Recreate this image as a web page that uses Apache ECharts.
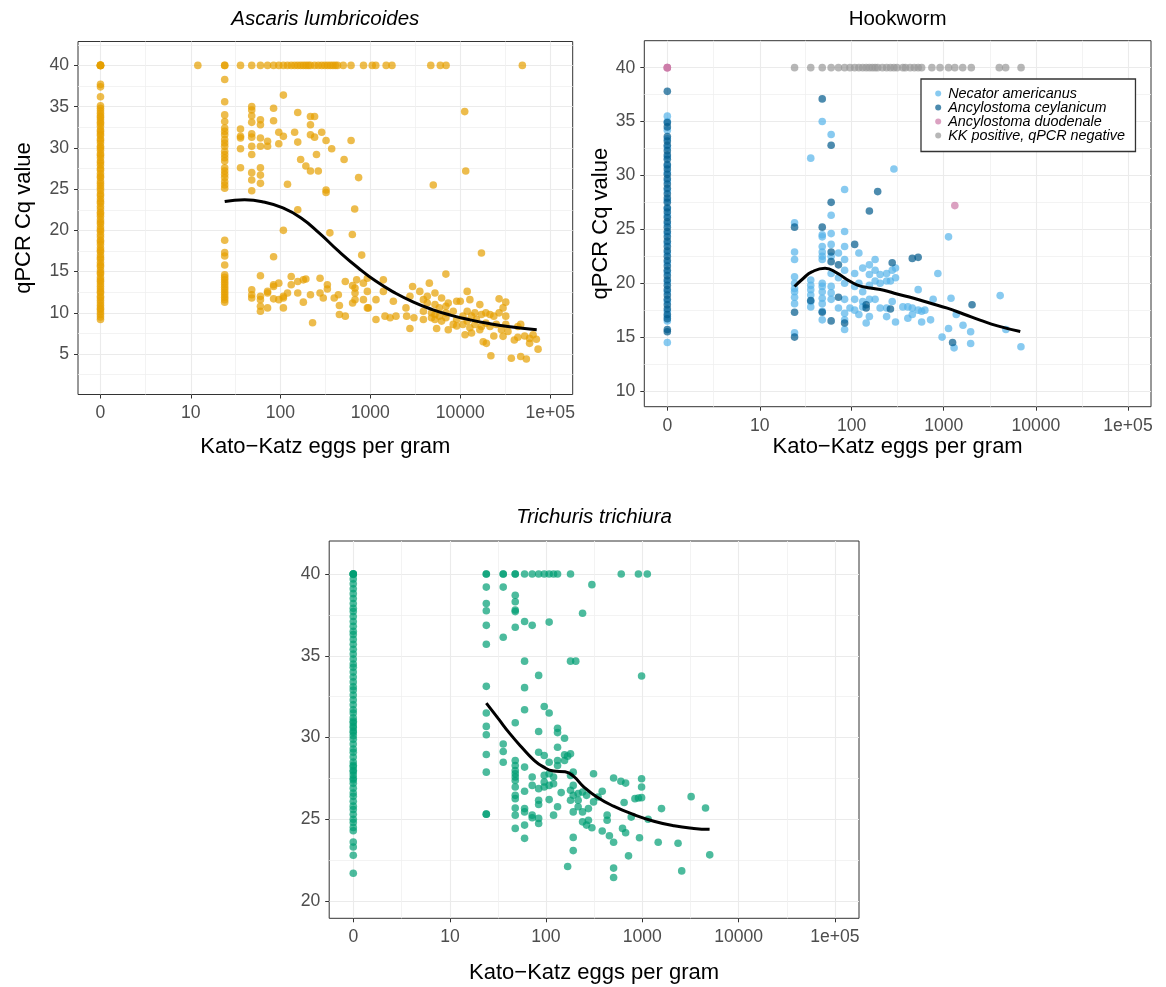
<!DOCTYPE html>
<html><head><meta charset="utf-8">
<script src="https://cdn.jsdelivr.net/npm/echarts@6/dist/echarts.min.js"></script>
<style>html,body{margin:0;padding:0;background:#fff}#c{width:1166px;height:987px}</style>
</head><body><div id="c"></div>
<script>
// ---------- axis ticks ----------
const xTickValues = [0, 10, 100, 1000, 10000, 100000];
const xTickLabels = ['0', '10', '100', '1000', '10000', '1e+05'];
const ascarisYTicks = [5, 10, 15, 20, 25, 30, 35, 40];
const ascarisYMinor = [2.5, 7.5, 12.5, 17.5, 22.5, 27.5, 32.5, 37.5, 42.5];
const hookwormYTicks = [10, 15, 20, 25, 30, 35, 40];
const hookwormYMinor = [12.5, 17.5, 22.5, 27.5, 32.5, 37.5];
const trichurisYTicks = [20, 25, 30, 35, 40];
const trichurisYMinor = [22.5, 27.5, 32.5, 37.5];

// ---------- panel titles ----------
const panelTitles = ['Ascaris lumbricoides', 'Hookworm', 'Trichuris trichiura'];

// ---------- Ascaris (eggs per gram, Cq) ----------
const ascarisZeroCq = [40, 40, 40, 40, 40, 37.7, 37.4, 36.2, 35.1, 34.8, 34.5, 34.2, 33.9, 33.7, 33.4, 33.1, 32.9, 32.6, 32.2, 32.0, 31.7, 31.5, 31.1, 30.9, 30.6, 30.2, 30.0, 29.7, 29.3, 29.1, 28.8, 28.4, 28.2, 27.9, 27.5, 27.3, 26.9, 26.6, 26.4, 26.0, 25.7, 25.4, 25.1, 24.8, 24.4, 24.2, 23.8, 23.5, 23.3, 22.9, 22.6, 22.2, 22.0, 21.7, 21.3, 21.0, 20.8, 20.4, 20.1, 19.9, 19.5, 19.2, 18.8, 18.6, 18.3, 17.9, 17.6, 17.4, 17.0, 16.7, 16.5, 16.1, 15.8, 15.6, 15.2, 14.9, 14.7, 14.3, 14.0, 13.8, 13.5, 13.2, 12.9, 12.6, 12.4, 12.0, 11.8, 11.5, 11.2, 10.9, 10.6, 10.4, 10.1, 9.8, 9.5, 9.2];
const ascarisPoints = [
  [12,40],[24,40],[24,40],[36,40],[48,40],[60,40],[72,40],[84,40],[96,40],[108,40],[120,40],[132,40],[144,40],[156,40],[168,40],[180,40],[192,40],[204,40],[216,40],[240,40],[264,40],[288,40],[312,40],[336,40],[360,40],[384,40],[408,40],[432,40],[500,40],[610,40],[840,40],[1050,40],[1150,40],[1500,40],[1740,40],[4700,40],[6000,40],[6950,40],[49000,40],
  [24,38.3],[24,35.6],[24,34.0],[24,33.2],[24,32.4],[24,32.0],[24,31.6],[24,31.0],[24,30.6],[24,30.2],[24,29.6],[24,29.2],[24,28.8],[24,28.4],[24,27.6],[24,27.2],[24,26.8],[24,26.4],[24,25.9],[24,25.5],[24,25.1],[24,18.8],[24,17.3],[24,16.9],[24,15.8],[24,14.6],[24,14.3],[24,14.0],[24,13.7],[24,13.4],[24,13.1],[24,12.8],[24,12.5],[24,12.2],[24,11.9],[24,11.6],[24,11.3],
  [36,32.3],[36,31.4],[36,31.2],[36,29.9],[36,27.6],
  [48,35.0],[48,34.6],[48,33.9],[48,33.1],[48,31.7],[48,31.3],[48,30.2],[48,29.2],[48,27.0],[48,26.1],[48,24.8],[48,12.8],[48,12.2],[48,11.8],
  [60,33.4],[60,32.8],[60,31.2],[60,30.2],[60,27.6],[60,26.7],[60,25.7],[60,14.5],[60,12.0],[60,11.6],[60,10.8],[60,10.2],
  [72,30.8],[72,30.2],[72,12.6],[72,12.4],[72,10.6],
  [84,34.8],[84,33.3],[84,16.8],[84,13.4],[84,13.2],[84,11.7],
  [96,31.9],[96,30.5],[96,13.6],[96,11.6],
  [108,36.4],[108,31.4],[108,20.0],[108,12.0],[108,11.8],[108,10.6],
  [120,25.6],[120,12.4],[132,14.4],[132,13.4],
  [144,31.9],[156,34.3],[156,30.7],[156,22.5],[156,13.8],[156,12.4],
  [168,28.6],[180,14.0],[180,11.3],[192,27.8],[192,14.1],
  [216,33.8],[216,32.8],[216,31.6],[216,27.2],[216,12.2],[228,8.8],[240,33.8],[240,31.3],
  [252,29.2],[264,27.2],[276,14.2],[276,12.4],[288,31.9],[300,11.8],
  [322,30.9],[322,24.9],[322,24.6],[333,13.4],[333,12.9],[355,19.7],[372,29.9],[397,11.8],
  [441,12.2],[453,10.9],[453,9.8],[511,28.6],[527,13.8],[527,9.6],[611,30.9],[631,19.5],[635,13.3],[635,11.2],
  [670,22.6],[676,13.0],[676,12.4],[676,11.6],[705,14.0],[741,26.4],[802,17.0],[838,13.6],[838,11.6],
  [927,14.2],[927,12.6],[927,10.6],[950,10.6],[1156,11.6],[1156,9.2],[1396,14.0],[1396,12.6],[1456,9.6],
  [1660,9.4],[1803,11.4],[1928,9.6],[2490,10.6],[2535,9.6],[2757,12.0],[2757,8.1],[2950,13.2],[3055,9.4],
  [3550,12.6],[3890,11.6],[3890,10.2],[3890,9.2],[4300,12.0],[4300,11.2],[4530,13.6],[4790,10.0],[4790,9.4],
  [5010,25.5],[5230,12.4],[5230,11.0],[5230,9.8],[5230,9.2],[5460,8.1],[5840,10.6],[5840,9.6],[6200,11.8],[6200,9.0],
  [6920,14.7],[6920,10.8],[6920,10.0],[6920,9.4],[7350,11.2],[7350,7.95],[8350,10.2],[8350,8.6],
  [9120,11.4],[9120,9.2],[9120,8.4],[10000,11.4],[10700,9.6],[10700,8.6],[11200,34.4],[11300,7.35],[11500,27.2],
  [11940,12.6],[11940,10.2],[11940,9.0],[12790,11.6],[12790,8.2],[13340,9.6],[13340,7.55],[14530,10.0],[14530,8.6],
  [15150,9.2],[16500,11.0],[16500,7.95],[17200,17.25],[17200,9.8],[17200,8.35],[17980,6.5],[19240,10.0],[19240,8.75],
  [19520,6.3],[21380,9.8],[21380,8.35],[21900,4.8],[23600,9.6],[23600,7.2],[25150,8.6],[27020,11.7],[27020,10.0],
  [28660,7.95],[29900,10.6],[29900,7.15],[32050,11.3],[32050,9.6],[32050,8.6],[33900,7.75],[36950,4.5],[39900,6.7],
  [43650,8.35],[43650,7.05],[47000,8.6],[47000,4.7],[52000,7.2],[54300,4.4],[59000,6.9],[59000,6.3],[64500,7.35],
  [70150,6.8],[73300,5.6]
];
const ascarisSmooth = [[24,23.5],[40,23.7],[65,23.45],[105,22.75],[170,21.5],[275,19.6],[447,17.45],[724,15.5],[1148,13.85],[1862,12.45],[3020,11.3],[4900,10.4],[7943,9.7],[12880,9.15],[20900,8.7],[33900,8.35],[70800,7.95]];

// ---------- Hookworm ----------
const necatorZeroCq = [35.5, 35.0, 34.2, 33.4, 32.6, 31.7, 30.9, 30.3, 29.5, 28.6, 27.7, 26.9, 26.3, 25.5, 24.6, 23.7, 22.8, 21.9, 21.0, 20.1, 19.2, 18.3, 17.4, 16.9, 16.5, 14.5];
const ceylanicumZeroCq = [37.8, 34.9, 34.5, 33.6, 33.2, 32.8, 32.3, 31.9, 31.5, 31.0, 30.6, 30.1, 29.7, 29.2, 28.8, 28.3, 27.9, 27.5, 27.0, 26.6, 26.1, 25.7, 25.2, 24.8, 24.3, 23.9, 23.4, 23.0, 22.5, 22.1, 21.6, 21.2, 20.7, 20.3, 19.8, 19.4, 18.9, 18.5, 18.0, 17.6, 17.1, 16.7, 15.7, 15.5];
const necatorPoints = [
  [24,25.6],[24,22.9],[24,22.2],[24,20.6],[24,20.0],[24,19.5],[24,19.2],[24,18.7],[24,18.1],[24,15.4],
  [36,31.6],[36,20.3],[36,19.8],[36,19.4],[36,18.9],[36,18.3],[36,17.8],
  [48,35.0],[48,24.5],[48,24.3],[48,23.4],[48,22.9],[48,22.5],[48,22.2],[48,20.0],[48,19.7],[48,19.2],[48,18.6],[48,18.1],[48,17.4],[48,16.6],
  [60,33.8],[60,26.3],[60,24.6],[60,23.6],[60,22.5],[60,20.9],[60,19.7],[60,19.1],[60,18.5],
  [72,22.8],[72,20.5],[72,17.7],
  [84,28.7],[84,24.8],[84,23.4],[84,22.2],[84,21.2],[84,20.0],[84,18.5],[84,17.2],[84,16.6],[84,15.7],
  [96,17.7],[108,20.9],[108,19.7],[108,18.5],[108,17.5],[120,22.8],[120,20.0],[120,17.1],
  [132,21.4],[132,19.2],[132,18.3],[132,17.8],[144,16.3],
  [156,21.7],[156,20.8],[156,19.8],[156,18.5],[156,16.9],[180,22.2],[180,21.2],[180,20.2],[180,18.5],
  [204,20.8],[204,20.0],[204,17.7],[240,20.9],[240,20.2],[240,17.7],[240,16.9],[264,20.2],
  [276,21.2],[276,18.3],[288,30.6],[300,21.4],[300,20.5],[300,16.4],[360,17.8],[408,17.8],[408,16.75],
  [456,17.7],[456,17.1],[528,19.4],[528,17.5],[576,17.4],[576,16.4],[624,17.5],[720,16.6],[768,18.5],
  [864,20.9],[960,15.0],[1128,24.3],[1128,15.8],[1200,18.6],[1296,14.0],[1368,17.1],[1620,16.1],
  [1960,15.5],[1960,14.4],[4100,18.85],[4730,15.7],[6890,14.1]
];
const ceylanicumPoints = [
  [24,25.2],[24,17.3],[24,15.0],[36,18.4],[48,37.1],[48,25.2],[48,17.3],[60,32.8],[60,27.5],[60,22.9],[60,22.0],[60,16.5],
  [72,21.7],[72,18.7],[84,16.3],[108,23.6],[144,18.0],[144,17.7],[156,26.7],[192,28.5],[264,17.6],[276,21.9],
  [456,22.3],[528,22.4],[1248,14.5],[2030,18.0]
];
const duodenalePoints = [[0,40],[0,40],[0,40],[1320,27.2]];
const kkNegativePoints = [
  [24,40],[36,40],[48,40],[60,40],[72,40],[84,40],[96,40],[108,40],[120,40],[132,40],[144,40],[156,40],[168,40],[180,40],
  [192,40],[216,40],[240,40],[264,40],[288,40],[312,40],[360,40],[384,40],[432,40],[480,40],[528,40],[576,40],
  [744,40],[912,40],[1128,40],[1320,40],[1608,40],[1992,40],[4008,40],[4704,40],[6912,40]
];
const hookwormSmooth = [[24,19.69],[30,20.46],[37,21.05],[51.5,21.39],[69,20.95],[89,20.35],[114,19.85],[160,19.55],[223,19.35],[312,19.0],[473,18.6],[720,18.14],[1094,17.68],[1660,17.12],[2523,16.55],[3837,16.04],[6776,15.51]];

// ---------- Trichuris ----------
const trichurisZeroCq = [40, 40, 40, 40, 39.7, 39.4, 39.1, 38.8, 38.5, 38.2, 37.9, 37.7, 37.4, 37.1, 36.8, 36.5, 36.3, 36.0, 35.7, 35.4, 35.1, 34.8, 34.5, 34.3, 34.0, 33.7, 33.4, 33.1, 32.9, 32.6, 32.3, 32.0, 31.7, 31.5, 31.2, 31.0, 30.9, 30.7, 30.6, 30.4, 30.3, 30.1, 29.9, 29.6, 29.3, 29.1, 28.8, 28.5, 28.3, 28.2, 28.0, 27.9, 27.7, 27.5, 27.4, 27.2, 26.9, 26.6, 26.4, 26.1, 25.8, 25.6, 25.3, 25.0, 24.8, 24.5, 24.3, 23.6, 23.3, 22.8, 21.7];
const trichurisPoints = [
  [24,40],[24,40],[36,40],[36,40],[48,40],[48,40],[60,40],[72,40],[84,40],[96,40],[108,40],[120,40],[132,40],[180,40],[605,40],[912,40],[1128,40],
  [24,39.2],[24,38.2],[24,37.75],[24,36.86],[24,35.7],[24,33.13],[24,31.5],[24,30.68],[24,30.17],[24,28.96],[24,27.88],[24,25.31],[24,25.31],
  [36,39.2],[36,36.13],[36,29.6],[36,29.14],[36,28.49],
  [48,38.7],[48,38.3],[48,37.8],[48,37.7],[48,36.74],[48,30.9],[48,28.59],[48,28.29],[48,27.98],[48,27.78],[48,27.58],[48,27.37],[48,26.97],[48,26.46],[48,26.26],[48,25.69],[48,25.25],[48,24.44],
  [60,37.1],[60,34.67],[60,33.05],[60,31.7],[60,28.19],[60,26.71],[60,25.65],[60,25.45],[60,24.64],[60,23.83],
  [72,36.86],[72,27.58],[72,27.07],[72,25.25],[72,25.09],
  [84,33.8],[84,30.37],[84,29.1],[84,26.87],[84,26.16],[84,25.9],[84,25.05],[84,24.74],
  [96,31.9],[96,28.9],[96,27.68],[96,27.28],[96,26.97],
  [108,37.06],[108,31.5],[108,28.49],[108,27.78],[108,27.07],[108,26.2],
  [120,27.58],[120,27.17],[120,25.25],
  [132,30.56],[132,30.3],[132,29.4],[132,28.59],[132,28.29],[132,25.76],
  [144,26.63],[156,29.95],[156,28.94],[156,28.59],[168,28.86],[168,22.11],
  [180,34.67],[180,29.0],[180,27.68],[180,26.77],[180,26.16],
  [204,34.67],[192,27.88],[192,27.07],[192,26.46],[192,25.45],[192,23.89],[192,23.08],
  [216,26.57],[216,26.16],[216,25.76],
  [240,37.6],[240,26.67],[240,25.45],[240,24.84],[264,26.46],[264,24.64],[276,25.65],[276,24.94],
  [300,39.35],[300,24.48],[312,27.78],[312,26.06],[348,26.36],[384,26.71],[384,24.28],[432,25.25],[432,24.94],[456,23.99],
  [504,27.52],[504,23.59],[504,22.01],[504,21.44],[600,27.32],[624,24.44],[648,26.02],[672,27.21],[672,24.17],[720,22.76],
  [768,25.13],[840,26.26],[912,26.3],[936,23.87],[984,27.48],[984,26.97],[984,26.32],[984,33.76],
  [1152,25.0],[1464,23.59],[1584,25.65],[2352,23.53],[2568,21.84],[3216,26.38],[4536,25.69],[5016,22.82]
];
const trichurisSmooth = [[24,32.1],[32,31.15],[42,30.25],[56,29.4],[74,28.65],[94,28.2],[120,27.95],[158,27.9],[194,27.62],[245,27.0],[338,26.36],[503,25.8],[812,25.29],[1318,24.88],[2140,24.6],[3430,24.44],[5000,24.38]];

// ---------- helpers ----------
const psl = v => Math.asinh(v / 2) / Math.LN10;          // pseudo-log10 transform
const xTickPos = xTickValues.map(psl);
const xMinorPos = xTickPos.slice(1).map((p, i) => (p + xTickPos[i]) / 2);
const X_RANGE = [-0.25, 5.25];
const toXY = arr => arr.map(d => [psl(d[0]), d[1]]);
const zeros = arr => arr.map(c => [0, c]);

const FONT = "'Liberation Sans', Arial, sans-serif";
const GRID_MAJOR = '#EBEBEB', GRID_MINOR = '#F0F0F0';

const grids = [
  {left: 78, top: 41.5, width: 494.7, height: 353},
  {left: 644.3, top: 40.7, width: 506.7, height: 366},
  {left: 329.2, top: 541, width: 529.8, height: 377.3}
];
const yRanges = [[0.1, 42.9], [8.54, 42.5], [18.94, 42.02]];
const yTicks = [ascarisYTicks, hookwormYTicks, trichurisYTicks];
const yMinors = [ascarisYMinor, hookwormYMinor, trichurisYMinor];
const xNameGap = [41.7, 29.5, 44];
const yNames = ['qPCR Cq value', 'qPCR Cq value', ''];
const yNameGap = [43, 32, 40];
const titleGap = [11.9, 10.9, 13.4];
const titleItalic = [true, false, true];

const xAxes = [], yAxes = [];
grids.forEach((g, i) => {
  xAxes.push({
    type: 'value', gridIndex: i, min: X_RANGE[0], max: X_RANGE[1], position: 'bottom',
    name: 'Kato\u2212Katz eggs per gram', nameLocation: 'middle', nameGap: xNameGap[i],
    nameTextStyle: {fontSize: 22, color: '#000', fontFamily: FONT},
    axisLine: {show: false, onZero: false},
    axisTick: {show: true, length: 4, customValues: xTickPos, lineStyle: {color: '#333', width: 1}},
    axisLabel: {show: true, customValues: xTickPos, margin: 10, fontSize: 17.6, color: '#4D4D4D', fontFamily: FONT,
      formatter: v => { const k = xTickPos.findIndex(p => Math.abs(p - v) < 1e-6); return k >= 0 ? xTickLabels[k] : ''; }},
    splitLine: {show: true, lineStyle: {color: GRID_MAJOR, width: 1.1}}
  });
  xAxes.push({
    type: 'value', gridIndex: i, min: X_RANGE[0], max: X_RANGE[1], position: 'top',
    name: panelTitles[i], nameLocation: 'middle', nameGap: titleGap[i],
    nameTextStyle: {fontSize: 20.5, color: '#000', fontFamily: FONT, fontStyle: titleItalic[i] ? 'italic' : 'normal'},
    axisLine: {show: false, onZero: false}, axisLabel: {show: false},
    axisTick: {show: false, customValues: xMinorPos},
    splitLine: {show: true, lineStyle: {color: GRID_MINOR, width: 0.8}}
  });
  yAxes.push({
    type: 'value', gridIndex: i, min: yRanges[i][0], max: yRanges[i][1], position: 'left',
    name: yNames[i], nameLocation: 'middle', nameGap: yNameGap[i], nameRotate: 90,
    nameTextStyle: {fontSize: 22, color: '#000', fontFamily: FONT},
    axisLine: {show: false, onZero: false},
    axisTick: {show: true, length: 4, customValues: yTicks[i], lineStyle: {color: '#333', width: 1}},
    axisLabel: {show: true, customValues: yTicks[i], margin: 9, fontSize: 17.6, color: '#4D4D4D', fontFamily: FONT},
    splitLine: {show: true, lineStyle: {color: GRID_MAJOR, width: 1.1}}
  });
  yAxes.push({
    type: 'value', gridIndex: i, min: yRanges[i][0], max: yRanges[i][1], position: 'right',
    axisLine: {show: false, onZero: false}, axisLabel: {show: false},
    axisTick: {show: false, customValues: yMinors[i]},
    splitLine: {show: true, lineStyle: {color: GRID_MINOR, width: 0.8}}
  });
});

function scatter(name, panel, data, color, z) {
  return {type: 'scatter', name, xAxisIndex: 2 * panel, yAxisIndex: 2 * panel, data,
    symbol: 'circle', symbolSize: 7.6, itemStyle: {color, opacity: 0.7}, silent: true, z: z || 2,
    emphasis: {disabled: true}};
}
function smooth(panel, data) {
  return {type: 'line', xAxisIndex: 2 * panel, yAxisIndex: 2 * panel, data: toXY(data),
    showSymbol: false, smooth: 0.5, silent: true, z: 5,
    lineStyle: {color: '#000', width: 3}};
}

const ORANGE = '#E69F00', LIGHTBLUE = '#56B4E9', DARKBLUE = '#005A8C', PINK = '#CC79A7', GREY = '#999999', GREEN = '#009E73';

const option = {
  animation: false,
  textStyle: {fontFamily: FONT},
  grid: grids.map(g => Object.assign({show: true, borderColor: '#333', borderWidth: 1, backgroundColor: 'transparent'}, g)),
  xAxis: xAxes,
  yAxis: yAxes,
  legend: {
    data: ['Necator americanus', 'Ancylostoma ceylanicum', 'Ancylostoma duodenale', 'KK positive, qPCR negative'],
    orient: 'vertical', left: 921, top: 79, padding: [7.5, 10.5, 9, 14.2],
    itemWidth: 6, itemHeight: 6, itemGap: 0, icon: 'circle',
    textStyle: {fontSize: 14.4, fontStyle: 'italic', color: '#000', lineHeight: 13.6, fontFamily: FONT, padding: [0, 0, 0, 2]},
    borderColor: '#333', borderWidth: 1.3, backgroundColor: '#fff', selectedMode: false
  },
  series: [
    scatter('Ascaris', 0, zeros(ascarisZeroCq), ORANGE),
    scatter('Ascaris KK+', 0, toXY(ascarisPoints), ORANGE),
    smooth(0, ascarisSmooth),
    scatter('Necator americanus', 1, zeros(necatorZeroCq).concat(toXY(necatorPoints)), LIGHTBLUE, 2),
    scatter('Ancylostoma ceylanicum', 1, zeros(ceylanicumZeroCq).concat(toXY(ceylanicumPoints)), DARKBLUE, 3),
    scatter('Ancylostoma duodenale', 1, toXY(duodenalePoints), PINK, 3),
    scatter('KK positive, qPCR negative', 1, toXY(kkNegativePoints), GREY, 3),
    smooth(1, hookwormSmooth),
    scatter('Trichuris', 2, zeros(trichurisZeroCq), GREEN),
    scatter('Trichuris KK+', 2, toXY(trichurisPoints), GREEN),
    smooth(2, trichurisSmooth)
  ]
};
const chart = echarts.init(document.getElementById('c'), null, {renderer: 'canvas'});
chart.setOption(option);
</script></body></html>
